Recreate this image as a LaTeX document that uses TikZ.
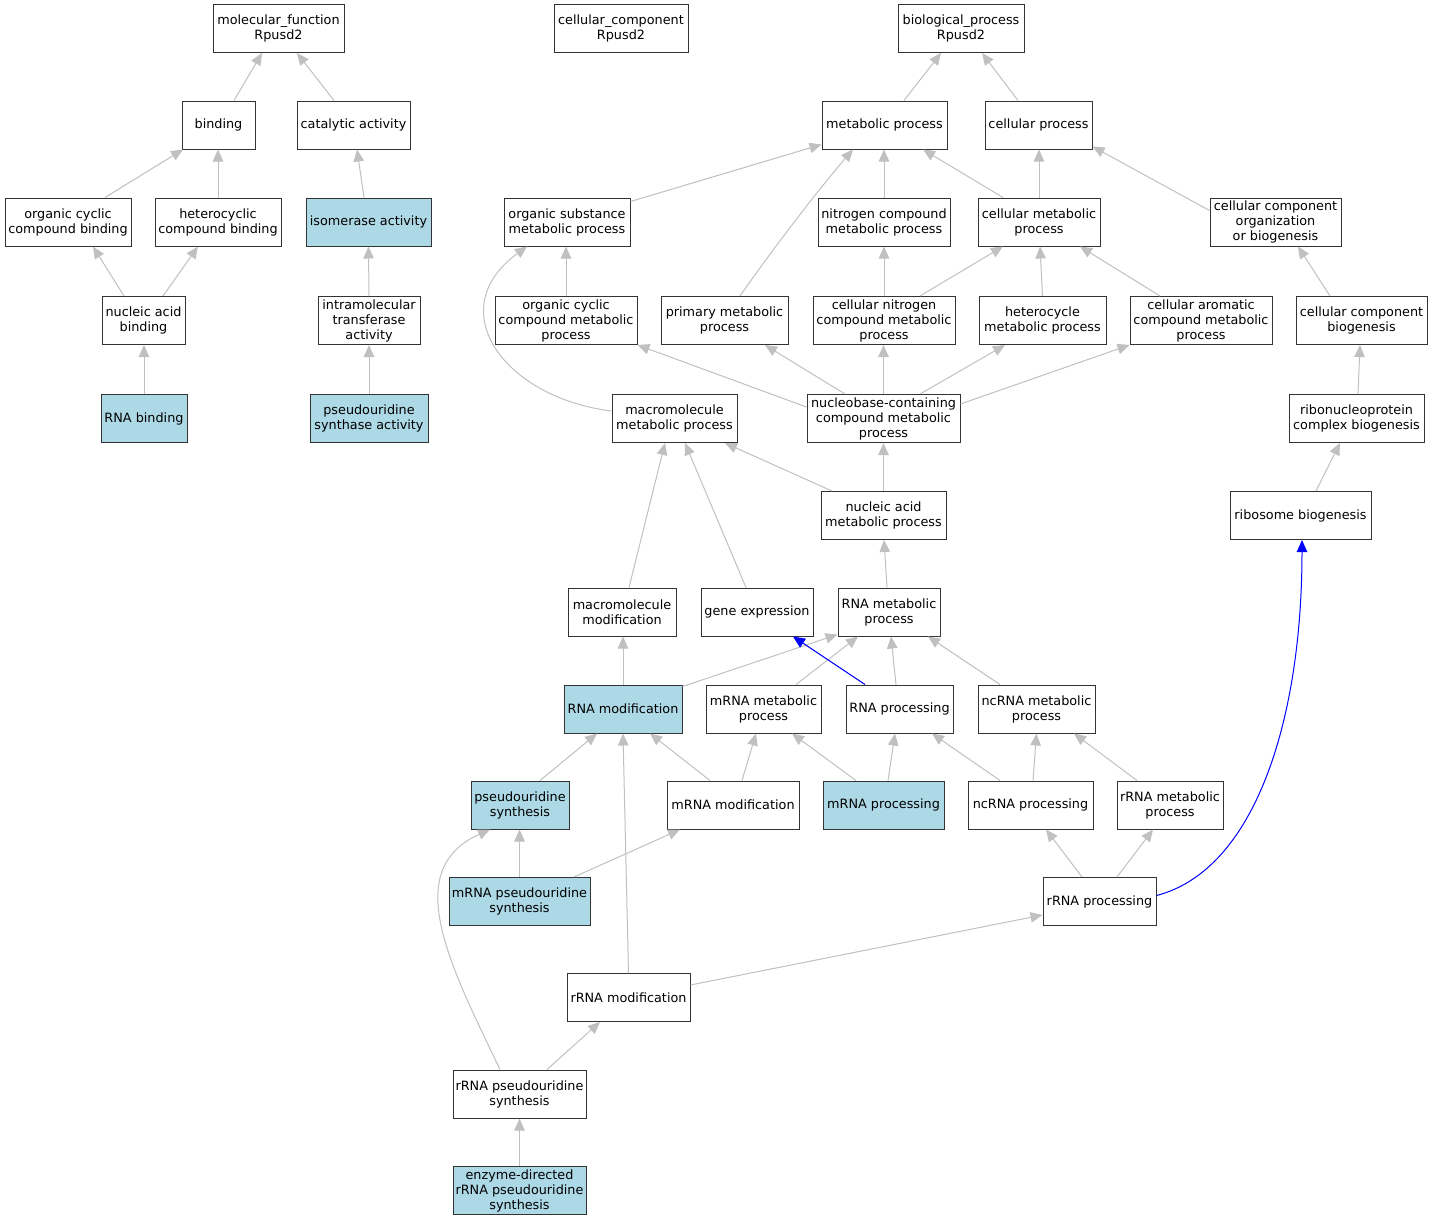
\documentclass[tikz,border=0pt]{standalone}
\usepackage{fontspec}
\setmainfont{DejaVu Sans}
\usetikzlibrary{arrows.meta}
\definecolor{nodeblue}{HTML}{ADD8E6}
\definecolor{edgegray}{HTML}{C0C0C0}
\tikzset{
  box/.style={draw=black!80, line width=1pt, fill=white, inner sep=0pt, minimum height=48pt,
    align=center, font=\fontsize{12.8}{15}\selectfont},
  hit/.style={box, fill=nodeblue},
  isa/.style={draw=edgegray, line width=1pt, -{Triangle[length=12pt,width=10.5pt]}},
  blueedge/.style={draw=blue, line width=1pt, -{Triangle[length=12pt,width=10.5pt]}},
}
\begin{document}
\begin{tikzpicture}[x=1pt,y=-1pt]
\useasboundingbox (0,0) rectangle (1433,1221);
% row 0
\node[box, minimum width=131pt] (mf) at (278.5,28.5) {molecular\_function\\Rpusd2};
\node[box, minimum width=134pt] (cc) at (621,28.5) {cellular\_component\\Rpusd2};
\node[box, minimum width=126pt] (bp) at (961,28.5) {biological\_process\\Rpusd2};
% row 1
\node[box, minimum width=73pt] (binding) at (218.5,125) {binding};
\node[box, minimum width=113pt] (catalytic) at (353.5,125) {catalytic activity};
\node[box, minimum width=125pt] (metabolic) at (884.5,125) {metabolic process};
\node[box, minimum width=107pt] (cellproc) at (1038.5,125) {cellular process};
% row 2
\node[box, minimum width=126pt] (ocb) at (68,222) {organic cyclic\\compound binding};
\node[box, minimum width=126pt] (hcb) at (218,222) {heterocyclic\\compound binding};
\node[hit, minimum width=125pt] (isomerase) at (368.5,222) {isomerase activity};
\node[box, minimum width=126pt] (osm) at (567,222) {organic substance\\metabolic process};
\node[box, minimum width=132pt] (ncm) at (884,222) {nitrogen compound\\metabolic process};
\node[box, minimum width=122pt] (cmp) at (1039,222) {cellular metabolic\\process};
\node[box, minimum width=131pt] (ccob) at (1275.5,222) {cellular component\\organization\\or biogenesis};
% row 3
\node[box, minimum width=83pt] (nab) at (143.5,320.5) {nucleic acid\\binding};
\node[box, minimum width=102pt] (ita) at (369,320.5) {intramolecular\\transferase\\activity};
\node[box, minimum width=142pt] (occm) at (566,320.5) {organic cyclic\\compound metabolic\\process};
\node[box, minimum width=127pt] (pmp) at (724.5,320.5) {primary metabolic\\process};
\node[box, minimum width=142pt] (cncm) at (884,320.5) {cellular nitrogen\\compound metabolic\\process};
\node[box, minimum width=127pt] (hmp) at (1042.5,320.5) {heterocycle\\metabolic process};
\node[box, minimum width=142pt] (cacm) at (1201,320.5) {cellular aromatic\\compound metabolic\\process};
\node[box, minimum width=131pt] (ccb) at (1361.5,320.5) {cellular component\\biogenesis};
% row 4
\node[hit, minimum width=86pt] (rnab) at (144,418.5) {RNA binding};
\node[hit, minimum width=118pt] (psa) at (369,418.5) {pseudouridine\\synthase activity};
\node[box, minimum width=125pt] (mmp) at (674.5,418.5) {macromolecule\\metabolic process};
\node[box, minimum width=153pt] (nbc) at (883.5,418.5) {nucleobase-containing\\compound metabolic\\process};
\node[box, minimum width=135pt] (rcb) at (1356.5,418.5) {ribonucleoprotein\\complex biogenesis};
% row 5
\node[box, minimum width=125pt] (nam) at (883.5,515.5) {nucleic acid\\metabolic process};
\node[box, minimum width=141pt] (rb) at (1300.5,515.5) {ribosome biogenesis};
% row 6
\node[box, minimum width=108pt] (mm) at (622,612) {macromolecule\\modification};
\node[box, minimum width=112pt] (ge) at (757,612) {gene expression};
\node[box, minimum width=102pt] (rmp) at (889,612) {RNA metabolic\\process};
% row 7
\node[hit, minimum width=118pt] (rmod) at (623,709) {RNA modification};
\node[box, minimum width=115pt] (mrmp) at (763.5,709) {mRNA metabolic\\process};
\node[box, minimum width=107pt] (rproc) at (899.5,709) {RNA processing};
\node[box, minimum width=117pt] (ncmp) at (1036.5,709) {ncRNA metabolic\\process};
% row 8
\node[hit, minimum width=98pt] (ps) at (520,805) {pseudouridine\\synthesis};
\node[box, minimum width=132pt] (mrmod) at (733,805) {mRNA modification};
\node[hit, minimum width=121pt] (mrproc) at (883.5,805) {mRNA processing};
\node[box, minimum width=125pt] (ncproc) at (1030.5,805) {ncRNA processing};
\node[box, minimum width=106pt] (rrmp) at (1170,805) {rRNA metabolic\\process};
% row 9
\node[hit, minimum width=141pt] (mps) at (519.5,901.5) {mRNA pseudouridine\\synthesis};
\node[box, minimum width=113pt] (rrproc) at (1099.5,901.5) {rRNA processing};
% row 10
\node[box, minimum width=123pt] (rrmod) at (628.5,997.5) {rRNA modification};
% row 11
\node[box, minimum width=133pt] (rps) at (519.5,1094) {rRNA pseudouridine\\synthesis};
% row 12
\node[hit, minimum width=133pt] (ed) at (519.5,1190.5) {enzyme-directed\\rRNA pseudouridine\\synthesis};

% edges (child -> parent)
\draw[isa] ([xshift=15.5pt]binding.north) -- ([xshift=-16.5pt]mf.south);
\draw[isa] ([xshift=-19.5pt]catalytic.north) -- ([xshift=18.5pt]mf.south);
\draw[isa] ([xshift=19.5pt]metabolic.north) -- ([xshift=-20pt]bp.south);
\draw[isa] ([xshift=-20.5pt]cellproc.north) -- ([xshift=21pt]bp.south);
\draw[isa] ([xshift=37pt]ocb.north) -- ([xshift=-35.5pt]binding.south);
\draw[isa] (hcb.north) -- (hcb.north |- binding.south);
\draw[isa] ([xshift=-4.5pt]isomerase.north) -- ([xshift=3.5pt]catalytic.south);
\draw[isa] ([yshift=-4pt]osm.north east) -- ([yshift=5pt]metabolic.south west);
\draw[isa] (ncm.north) -- (ncm.north |- metabolic.south);
\draw[isa] ([xshift=-36pt]cmp.north) -- ([xshift=38.5pt]metabolic.south);
\draw[isa] (cmp.north) -- (cmp.north |- cellproc.south);
\draw[isa] ([yshift=-13pt]ccob.north west) -- ([yshift=3pt]cellproc.south east);
\draw[isa] ([xshift=15.5pt]pmp.north) .. controls (772,250) and (818,190) .. ([xshift=-31.5pt]metabolic.south);
\draw[isa] ([xshift=-19.5pt]nab.north) -- ([xshift=25pt]ocb.south);
\draw[isa] ([xshift=19.5pt]nab.north) -- ([xshift=-20pt]hcb.south);
\draw[isa] (ita.north) -- (isomerase.south);
\draw[isa] (occm.north) -- (occm.north |- osm.south);
\draw[isa] (cncm.north) -- (ncm.south);
\draw[isa] ([xshift=36pt]cncm.north) -- ([xshift=-36pt]cmp.south);
\draw[isa] (hmp.north) -- ([xshift=1pt]cmp.south);
\draw[isa] ([xshift=-41pt]cacm.north) -- ([xshift=41pt]cmp.south);
\draw[isa] ([xshift=-31.5pt]ccb.north) -- ([xshift=22.5pt]ccob.south);
\draw[isa] (rnab.north) -- (rnab.north |- nab.south);
\draw[isa] (psa.north) -- (ita.south);
\draw[isa] ([yshift=-17pt]mmp.north west) .. controls (505,398) and (440,310) .. ([xshift=-40pt]osm.south);
\draw[isa] ([yshift=-13pt]nbc.north west) -- (occm.south east);
\draw[isa] ([xshift=-38.5pt]nbc.north) -- ([xshift=40.5pt]pmp.south);
\draw[isa] (nbc.north) -- (nbc.north |- cncm.south);
\draw[isa] ([xshift=36.5pt]nbc.north) -- ([xshift=-37.5pt]hmp.south);
\draw[isa] ([yshift=-10pt]nbc.north east) -- (cacm.south west);
\draw[isa] ([xshift=1.5pt]rcb.north) -- ([xshift=-1.5pt]ccb.south);
\draw[isa] ([xshift=-51.5pt]nam.north) -- ([xshift=50.5pt]mmp.south);
\draw[isa] (nam.north) -- (nbc.south);
\draw[isa] ([xshift=15.5pt]rb.north) -- ([xshift=-16.5pt]rcb.south);
\draw[isa] ([xshift=7pt]mm.north) -- ([xshift=-9.5pt]mmp.south);
\draw[isa] ([xshift=-11pt]ge.north) -- ([xshift=10.5pt]mmp.south);
\draw[isa] ([xshift=-2pt]rmp.north) -- ([xshift=0.5pt]nam.south);
\draw[isa] (rmod.north) -- (rmod.north |- mm.south);
\draw[isa] ([yshift=-2pt]rmod.north east) -- ([yshift=2pt]rmp.south west);
\draw[isa] ([xshift=32.5pt]mrmp.north) -- ([xshift=-31pt]rmp.south);
\draw[isa] ([xshift=-3.5pt]rproc.north) -- ([xshift=2pt]rmp.south);
\draw[blueedge] ([xshift=-34.5pt]rproc.north) -- ([xshift=36pt]ge.south);
\draw[isa] ([xshift=-36.5pt]ncmp.north) -- ([xshift=39pt]rmp.south);
\draw[isa] ([xshift=20pt]ps.north) -- ([xshift=-26pt]rmod.south);
\draw[isa] ([xshift=-23pt]mrmod.north) -- ([xshift=27pt]rmod.south);
\draw[isa] ([xshift=9pt]mrmod.north) -- ([xshift=-7.5pt]mrmp.south);
\draw[isa] ([xshift=-27.5pt]mrproc.north) -- ([xshift=28.5pt]mrmp.south);
\draw[isa] ([xshift=4.5pt]mrproc.north) -- ([xshift=-4.5pt]rproc.south);
\draw[isa] ([xshift=-30.5pt]ncproc.north) -- ([xshift=32.5pt]rproc.south);
\draw[isa] ([xshift=2.5pt]ncproc.north) -- (ncmp.south);
\draw[isa] ([xshift=-33pt]rrmp.north) -- ([xshift=37.5pt]ncmp.south);
\draw[isa] (mps.north) -- (mps.north |- ps.south);
\draw[isa] ([xshift=54.5pt]mps.north) -- ([xshift=-53pt]mrmod.south);
\draw[isa] ([xshift=-17.5pt]rrproc.north) -- ([xshift=15.5pt]ncproc.south);
\draw[isa] ([xshift=17.5pt]rrproc.north) -- ([xshift=-17pt]rrmp.south);
\draw[blueedge] ([yshift=6pt]rrproc.east) .. controls (1255,870) and (1302,720) .. ([xshift=1.5pt]rb.south);
\draw[isa] (rrmod.north) -- ([xshift=0pt]rmod.south);
\draw[isa] ([yshift=-12pt]rrmod.north east) -- ([yshift=11pt]rrproc.south west);
\draw[isa] ([xshift=-19.5pt]rps.north) .. controls (450,965) and (400,870) .. ([xshift=-30pt]ps.south);
\draw[isa] ([xshift=27.5pt]rps.north) -- ([xshift=-28.5pt]rrmod.south);
\draw[isa] (ed.north) -- (rps.south);
\end{tikzpicture}
\end{document}
